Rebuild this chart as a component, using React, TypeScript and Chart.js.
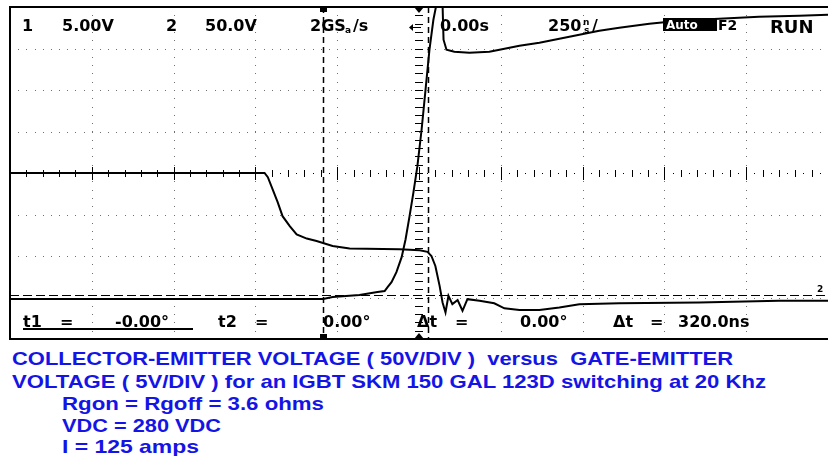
import React, { useEffect, useLayoutEffect, useRef } from "react";
import { Chart, registerables } from "chart.js";

Chart.register(...registerables);

// ---- data (time in ns, 250 ns/div; gate 5 V/div, Vce 50 V/div) ----
const gateTime = [-1250, -472, -462, -447, -432, -417, -395, -374, -343, -313, -264, -212, -60, 2, 26, 38, 50, 63, 72, 81, 90, 102, 118, 133, 148, 185, 230, 261, 307, 368, 429, 490, 612, 856, 1100, 1250];
const gateVolts = [15.0, 15.0, 14.5, 13.0, 11.5, 9.8, 8.6, 7.6, 7.1, 6.8, 6.2, 5.9, 5.8, 5.7, 5.5, 5.0, 3.8, 1.4, -0.6, -1.8, 0.2, -0.8, -0.3, -1.6, -0.2, -0.4, -0.7, -1.3, -1.5, -1.5, -1.2, -0.8, -0.7, -0.6, -0.4, -0.4];

const vceTime = [-1250, -293, -264, -182, -127, -105, -96, -84, -69, -53, -41, -29, -17, -5, 8, 20, 32, 44, 53, 63, 72, 75, 84, 108, 154, 215, 246, 307, 368, 429, 490, 551, 612, 704, 795, 917, 1039, 1162, 1250];
const vceVolts = [-1.9, -1.9, 0.5, 2.9, 6.5, 7.7, 12.5, 18.5, 30.5, 48.6, 70.2, 97.8, 126.7, 157.9, 202.4, 250.5, 298.6, 334.6, 352.6, 385, 352.6, 310.6, 298.6, 296.2, 295, 296.2, 298.6, 303.4, 307, 311.8, 316.6, 321.4, 325, 329.8, 333.4, 335.8, 338.2, 339.4, 340.6];

// grid divisions
const xDivisionsNs = [-1250, -1000, -750, -500, -250, 0, 250, 500, 750, 1000, 1250];
const yDivisionsGateV = [-5, 0, 5, 10, 15, 20, 25, 30, 35];

// cursors
const cursorT1 = -293;
const cursorT2 = 27;
const refLevelGateV = 0.3;

// screen read-outs
const topLabels = ["1", "5.00V", "2", "50.0V", "0.00s"];
const bottomLabels = ["t1", "=", "-0.00°", "t2", "=", "0.00°", "Δt", "=", "0.00°", "Δt", "=", "320.0ns"];

const captionLines = [
  "COLLECTOR-EMITTER VOLTAGE ( 50V/DIV )  versus  GATE-EMITTER",
  "VOLTAGE ( 5V/DIV ) for an IGBT SKM 150 GAL 123D switching at 20 Khz",
  "Rgon = Rgoff = 3.6 ohms",
  "VDC = 280 VDC",
  "I = 125 amps",
];

const CAP_LAYOUT = [
  { left: 12, top: 349, width: 721 },
  { left: 12, top: 372, width: 754 },
  { left: 62, top: 394, width: 262 },
  { left: 62, top: 416, width: 159 },
  { left: 62, top: 437, width: 137 },
];

const FONT = "'DejaVu Sans', sans-serif";

const scopePlugin = {
  id: "scopeScreen",
  beforeDatasetsDraw(chart: any) {
    const { ctx, chartArea: a, scales } = chart;
    const xs = scales.x;
    const ys = scales.yGate;
    ctx.save();
    const cx = xs.getPixelForValue(0);
    const cy = ys.getPixelForValue(15);
    const divX = (a.right - a.left) / 10;
    const divY = (a.bottom - a.top) / 8;
    // dotted grid
    ctx.fillStyle = "#707070";
    xDivisionsNs.forEach((t) => {
      const x = Math.round(xs.getPixelForValue(t));
      if (t === 0 || x <= a.left + 1 || x >= a.right - 1) return;
      for (let y = a.top + divY / 5; y < a.bottom - 1; y += divY / 5) {
        ctx.fillRect(x, Math.round(y), 1, 1);
      }
    });
    yDivisionsGateV.forEach((v) => {
      const y = Math.round(ys.getPixelForValue(v));
      if (v === 15 || y <= a.top + 1 || y >= a.bottom - 1) return;
      for (let x = a.left + divX / 10; x < a.right - 1; x += divX / 10) {
        ctx.fillRect(Math.round(x), y, 1, 1);
      }
    });
    // centre axes with minor ticks
    ctx.fillStyle = "#000";
    let k = 0;
    for (let x = a.left + divX / 10; x < a.right - 1; x += divX / 10) {
      k++;
      const xi = Math.round(x);
      if (k % 2 === 0) ctx.fillRect(xi, Math.round(cy) - 3, 1, 7);
      else ctx.fillRect(xi, Math.round(cy), 1, 1);
    }
    xDivisionsNs.forEach((t) => {
      const x = Math.round(xs.getPixelForValue(t));
      if (x > a.left + 1 && x < a.right - 1) ctx.fillRect(x, Math.round(cy) - 6, 1, 13);
    });
    for (let y = a.top + divY / 5; y < a.bottom - 1; y += divY / 5) {
      ctx.fillRect(Math.round(cx) - 4, Math.round(y), 8, 1);
    }
    ctx.fillRect(Math.round(cx), a.top, 1, 4);
    ctx.fillRect(Math.round(cx), a.bottom - 4, 1, 4);
    // dashed cursors
    ctx.strokeStyle = "#000";
    ctx.lineWidth = 1.5;
    ctx.setLineDash([6, 4]);
    [cursorT1, cursorT2].forEach((t) => {
      const x = Math.round(xs.getPixelForValue(t)) + 0.5;
      ctx.beginPath();
      ctx.moveTo(x, a.top);
      ctx.lineTo(x, a.bottom);
      ctx.stroke();
    });
    const ry = Math.round(ys.getPixelForValue(refLevelGateV)) + 0.5;
    ctx.lineWidth = 1.2;
    ctx.setLineDash([9, 4]);
    ctx.beginPath();
    ctx.moveTo(a.left, ry);
    ctx.lineTo(a.right, ry);
    ctx.stroke();
    ctx.restore();
  },
  afterDatasetsDraw(chart: any) {
    const { ctx, chartArea: a, scales } = chart;
    const xs = scales.x;
    ctx.save();
    // border
    ctx.strokeStyle = "#000";
    ctx.lineWidth = 2;
    ctx.strokeRect(a.left, a.top, a.right - a.left + 4, a.bottom - a.top);
    // markers
    ctx.fillStyle = "#000";
    const x1 = Math.round(xs.getPixelForValue(cursorT1));
    ctx.fillRect(x1 - 3, a.top, 7, 5);
    ctx.fillRect(x1 - 3, a.bottom - 5, 7, 5);
    const x0 = Math.round(xs.getPixelForValue(0));
    ctx.beginPath();
    ctx.moveTo(x0 - 5, a.top);
    ctx.lineTo(x0 + 5, a.top);
    ctx.lineTo(x0, a.top + 6);
    ctx.closePath();
    ctx.fill();
    ctx.beginPath();
    ctx.moveTo(x0 - 5, a.bottom);
    ctx.lineTo(x0 + 5, a.bottom);
    ctx.lineTo(x0, a.bottom - 6);
    ctx.closePath();
    ctx.fill();

    // top read-out
    ctx.textBaseline = "alphabetic";
    ctx.font = `bold 16px ${FONT}`;
    const topPos = [22, 62, 166, 205, 440];
    topLabels.forEach((s, i) => ctx.fillText(s, topPos[i], 31));
    ctx.fillText("2GS", 310, 31);
    ctx.font = `bold 9px ${FONT}`;
    ctx.fillText("a", 345, 33);
    ctx.font = `bold 16px ${FONT}`;
    ctx.fillText("/s", 353, 31);
    ctx.fillText("250", 548, 31);
    ctx.font = `bold 9px ${FONT}`;
    ctx.fillText("n", 583, 25);
    ctx.fillText("s", 584, 33);
    ctx.font = `bold 16px ${FONT}`;
    ctx.fillText("/", 592, 31);
    // trigger arrow
    ctx.fillRect(x0 - 6, 27, 8, 1);
    ctx.beginPath();
    ctx.moveTo(x0 - 6, 24);
    ctx.lineTo(x0 - 6, 31);
    ctx.lineTo(x0 - 10, 27.5);
    ctx.closePath();
    ctx.fill();
    // Auto box
    ctx.fillRect(663, 18, 54, 13);
    ctx.fillStyle = "#fff";
    ctx.font = `bold 12px ${FONT}`;
    ctx.fillText("Auto", 666, 29);
    ctx.fillStyle = "#000";
    ctx.font = `bold 14px ${FONT}`;
    ctx.fillText("F2", 718, 30);
    ctx.font = `bold 18px ${FONT}`;
    ctx.fillText("RUN", 770, 33);
    // 2 ground marker
    ctx.font = `bold 9px ${FONT}`;
    ctx.fillText("2", 817, 292);

    // bottom read-out
    ctx.font = `bold 16px ${FONT}`;
    const botPos = [23, 60, 115, 218, 255, 323, 417, 455, 520, 613, 650, 678];
    bottomLabels.forEach((s, i) => ctx.fillText(s, botPos[i], 327));
    ctx.fillRect(23, 328, 170, 2);
    ctx.restore();
  },
};

export default function App() {
  const canvasRef = useRef<HTMLCanvasElement | null>(null);
  const capRefs = useRef<(HTMLSpanElement | null)[]>([]);

  useEffect(() => {
    const canvas = canvasRef.current;
    if (!canvas) return;
    const chart = new Chart(canvas, {
      type: "line",
      data: {
        datasets: [
          {
            label: "Gate-emitter voltage",
            data: gateTime.map((t, i) => ({ x: t, y: gateVolts[i] })),
            yAxisID: "yGate",
            borderColor: "#000",
            borderWidth: 2,
            pointRadius: 0,
            tension: 0,
          },
          {
            label: "Collector-emitter voltage",
            data: vceTime.map((t, i) => ({ x: t, y: vceVolts[i] })),
            yAxisID: "yVce",
            borderColor: "#000",
            borderWidth: 2,
            pointRadius: 0,
            tension: 0,
          },
        ],
      },
      options: {
        responsive: false,
        animation: false,
        layout: { padding: { left: 10, top: 7, right: 0, bottom: 4 } },
        plugins: { legend: { display: false }, tooltip: { enabled: false } },
        scales: {
          x: { type: "linear", min: -1250, max: 1250, display: false },
          yGate: { type: "linear", min: -5, max: 35, display: false },
          yVce: { type: "linear", min: -50, max: 350, display: false },
        },
      },
      plugins: [scopePlugin],
    });
    return () => chart.destroy();
  }, []);

  useLayoutEffect(() => {
    capRefs.current.forEach((el, i) => {
      if (!el) return;
      el.style.transform = "none";
      const w = el.getBoundingClientRect().width;
      if (w > 0) el.style.transform = `scaleX(${CAP_LAYOUT[i].width / w})`;
    });
  }, []);

  return (
    <div style={{ position: "absolute", left: 0, top: 0, width: 828, height: 456, background: "#fff", overflow: "hidden" }}>
      <canvas ref={canvasRef} width={828} height={343} style={{ position: "absolute", left: 0, top: 0, width: 828, height: 343 }} />
      {captionLines.map((s, i) => (
        <span
          key={i}
          ref={(el) => { capRefs.current[i] = el; }}
          style={{
            position: "absolute",
            left: CAP_LAYOUT[i].left,
            top: CAP_LAYOUT[i].top,
            whiteSpace: "pre",
            display: "inline-block",
            transformOrigin: "0 0",
            fontFamily: "'Liberation Sans Narrow', 'Liberation Sans', Arial, sans-serif",
            fontWeight: "bold",
            fontSize: 19,
            lineHeight: "19px",
            color: "#1414e6",
          }}
        >
          {s}
        </span>
      ))}
    </div>
  );
}
